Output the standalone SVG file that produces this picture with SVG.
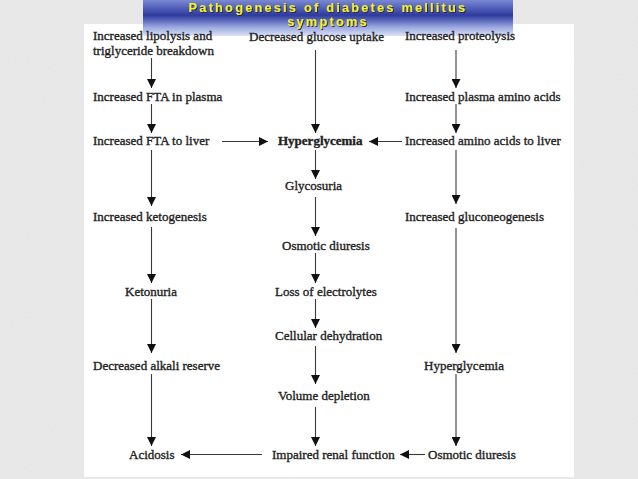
<svg xmlns="http://www.w3.org/2000/svg" width="638" height="479" viewBox="0 0 638 479">
<defs>
<style>
.t{font-family:"Liberation Serif","Times New Roman",serif;font-size:13px;fill:#222;stroke:#222;stroke-width:0.35}
.b{font-weight:bold}
.ttl{font-family:"Liberation Sans",Arial,sans-serif;font-size:12.8px;font-weight:bold;fill:#f4f020;letter-spacing:2.2px;text-anchor:middle}
.c{stroke:#3a3a3a;stroke-width:1.1;fill:none}
</style>
<marker id="ah" markerWidth="9" markerHeight="9" refX="9" refY="4.5" orient="auto" markerUnits="userSpaceOnUse">
<path d="M0,0 L9,4.5 L0,9 Z" fill="#111"/>
</marker>
<linearGradient id="bn" x1="0" y1="0" x2="0" y2="1">
<stop offset="0" stop-color="#7a88d4"/>
<stop offset="0.2" stop-color="#5664bc"/>
<stop offset="0.42" stop-color="#2f3a9e"/>
<stop offset="0.55" stop-color="#5563b8"/>
<stop offset="0.75" stop-color="#9aa6e0"/>
<stop offset="1" stop-color="#dde2f6"/>
</linearGradient>
<filter id="noise" x="0" y="0" width="100%" height="100%">
<feTurbulence type="fractalNoise" baseFrequency="0.9" numOctaves="2" seed="3" result="n"/>
<feColorMatrix type="matrix" values="0 0 0 0 0.55  0 0 0 0 0.55  0 0 0 0 0.55  0 0 0 0.35 0" in="n"/>
<feComposite operator="in" in2="SourceGraphic"/>
</filter>
<filter id="sh" x="-5%" y="-20%" width="110%" height="140%">
<feDropShadow dx="1" dy="1" stdDeviation="0.4" flood-color="#202040" flood-opacity="0.9"/>
</filter>
</defs>
<rect width="638" height="479" fill="#ebebeb"/>
<rect width="638" height="479" fill="#ebebeb" filter="url(#noise)" opacity="0.5"/>
<rect x="84" y="24" width="490" height="453" fill="#ffffff"/>
<g id="title">
<rect x="143" y="0" width="370" height="36" fill="url(#bn)"/>
<g filter="url(#sh)">
<text class="ttl" x="328" y="11.7">Pathogenesis of diabetes mellitus</text>
<text class="ttl" x="328" y="26.1">symptoms</text>
</g>
</g>
<g id="connectors" class="c" marker-end="url(#ah)">
<line x1="151.5" y1="58" x2="151.5" y2="88"/>
<line x1="151.5" y1="104" x2="151.5" y2="133"/>
<line x1="151.5" y1="150" x2="151.5" y2="206"/>
<line x1="151.5" y1="227" x2="151.5" y2="283"/>
<line x1="151.5" y1="299" x2="151.5" y2="353"/>
<line x1="151.5" y1="374" x2="151.5" y2="446"/>
<line x1="315.5" y1="50" x2="315.5" y2="133"/>
<line x1="315.5" y1="150" x2="315.5" y2="179"/>
<line x1="315.5" y1="197" x2="315.5" y2="236"/>
<line x1="315.5" y1="253" x2="315.5" y2="283"/>
<line x1="315.5" y1="299" x2="315.5" y2="328"/>
<line x1="315.5" y1="346" x2="315.5" y2="384"/>
<line x1="315.5" y1="407" x2="315.5" y2="446"/>
<line x1="456" y1="50" x2="456" y2="88"/>
<line x1="456" y1="104" x2="456" y2="133"/>
<line x1="456" y1="150" x2="456" y2="204"/>
<line x1="456" y1="228" x2="456" y2="353"/>
<line x1="456" y1="374" x2="456" y2="446"/>
<line x1="222" y1="141.5" x2="268" y2="141.5"/>
<line x1="402" y1="141.5" x2="369" y2="141.5"/>
<line x1="262" y1="454.5" x2="181" y2="454.5"/>
<line x1="425" y1="454.5" x2="400" y2="454.5"/>
</g>
<g id="n-lipolysis"><text class="t" x="93" y="40">Increased lipolysis and</text><text class="t" x="93" y="55">triglyceride breakdown</text></g>
<g id="n-glucose"><text class="t" x="249" y="41">Decreased glucose uptake</text></g>
<g id="n-proteolysis"><text class="t" x="405" y="40">Increased proteolysis</text></g>
<g id="n-fta-plasma"><text class="t" x="93" y="101">Increased FTA in plasma</text></g>
<g id="n-plasma-aa"><text class="t" x="405" y="101">Increased plasma amino acids</text></g>
<g id="n-fta-liver"><text class="t" x="93" y="145">Increased FTA to liver</text></g>
<g id="n-hyper"><text class="t b" x="278" y="145">Hyperglycemia</text></g>
<g id="n-aa-liver"><text class="t" x="405" y="145">Increased amino acids to liver</text></g>
<g id="n-glycosuria"><text class="t" x="285" y="190">Glycosuria</text></g>
<g id="n-keto"><text class="t" x="93" y="221">Increased ketogenesis</text></g>
<g id="n-gluconeo"><text class="t" x="405" y="221">Increased gluconeogenesis</text></g>
<g id="n-osmotic"><text class="t" x="282" y="250">Osmotic diuresis</text></g>
<g id="n-ketonuria"><text class="t" x="125" y="296">Ketonuria</text></g>
<g id="n-loss"><text class="t" x="275" y="296">Loss of electrolytes</text></g>
<g id="n-cellular"><text class="t" x="275" y="340">Cellular dehydration</text></g>
<g id="n-alkali"><text class="t" x="93" y="370">Decreased alkali reserve</text></g>
<g id="n-hyper2"><text class="t" x="424" y="370">Hyperglycemia</text></g>
<g id="n-volume"><text class="t" x="278" y="400">Volume depletion</text></g>
<g id="n-acidosis"><text class="t" x="129" y="459">Acidosis</text></g>
<g id="n-renal"><text class="t" x="272" y="459">Impaired renal function</text></g>
<g id="n-osmotic2"><text class="t" x="428" y="459">Osmotic diuresis</text></g>
</svg>
